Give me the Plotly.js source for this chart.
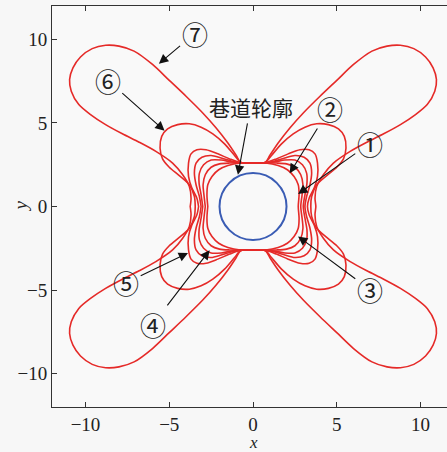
<!DOCTYPE html>
<html>
<head>
<meta charset="utf-8">
<script src="https://cdn.plot.ly/plotly-3.0.1.min.js"></script>
<style>
  html, body { margin: 0; padding: 0; background: #f7f7f7; }
  #plot { width: 447px; height: 452px; }
</style>
</head>
<body>
<div id="plot"></div>
<script>
// first-quadrant outline of each plastic zone
// (from the x-axis crossing round to the top of the roadway, x >= 0, y >= 0)
const zone1X = [2.7, 2.75, 2.7, 2.45, 2.05, 1.5, 0.75, 0.4, 0];
const zone1Y = [0, 0.7, 1.3, 1.8, 2.2, 2.45, 2.6, 2.6, 2.6];

const zone2X = [2.85, 2.93, 2.98, 2.85, 2.5, 2.0, 1.4, 0.75, 0.4, 0];
const zone2Y = [0, 0.7, 1.3, 1.9, 2.35, 2.55, 2.6, 2.6, 2.6, 2.6];

const zone3X = [3.0, 3.1, 3.22, 3.2, 2.95, 2.5, 1.9, 1.3, 0.75, 0.4, 0];
const zone3Y = [0, 0.7, 1.4, 2.0, 2.5, 2.78, 2.78, 2.67, 2.61, 2.6, 2.6];

const zone4X = [3.1, 3.2, 3.4, 3.5, 3.4, 3.05, 2.5, 1.9, 1.3, 0.75, 0.4, 0];
const zone4Y = [0, 0.6, 1.3, 2.0, 2.6, 2.95, 3.05, 2.9, 2.72, 2.62, 2.6, 2.6];

const zone5X = [3.25, 3.35, 3.65, 3.85, 3.85, 3.7, 3.35, 2.8, 2.1, 1.4, 0.75, 0.4, 0];
const zone5Y = [0, 0.5, 1.1, 1.8, 2.6, 3.15, 3.4, 3.4, 3.15, 2.85, 2.62, 2.6, 2.6];

const zone6X = [3.45, 3.5, 3.8, 4.4, 5.0, 5.4, 5.55, 5.45, 5.1, 4.5, 3.8, 3.1, 2.4, 1.7, 1.1, 0.75, 0.4, 0];
const zone6Y = [0, 0.6, 1.3, 1.85, 2.35, 2.85, 3.5, 4.2, 4.65, 4.9, 4.95, 4.75, 4.35, 3.75, 3.05, 2.65, 2.6, 2.6];

const zone7X = [3.75, 3.7, 3.8, 4.2, 4.8, 5.8, 6.8, 7.8, 8.8, 9.7, 10.4, 10.85, 10.95, 10.75, 10.3, 9.6, 8.8, 8.0, 7.1, 6.0, 5.0, 4.0, 3.0, 2.2, 1.5, 1.0, 0.75, 0.4, 0];
const zone7Y = [0, 0.5, 1.2, 1.9, 2.6, 3.3, 3.85, 4.35, 4.9, 5.5, 6.1, 6.9, 7.6, 8.3, 8.95, 9.45, 9.65, 9.6, 9.3, 8.5, 7.55, 6.6, 5.6, 4.7, 3.8, 3.05, 2.65, 2.6, 2.6];

const tunnelRadius = 2;

const labels = ['①', '②', '③', '④', '⑤', '⑥', '⑦'];
// label position and the point each arrow points at
const labelX = [6.97, 4.58, 6.97, -5.98, -7.57, -8.67, -3.49];
const labelY = [3.78, 5.87, -4.97, -7.05, -4.57, 7.56, 10.34];
const tipX = [2.69, 2.19, 2.69, -2.59, -3.88, -5.28, -5.62];
const tipY = [0.75, 1.99, -1.79, -2.62, -2.78, 4.53, 8.55];

const tunnelLabel = '巷道轮廓';
const tunnelLabelPos = [-0.15, 5.96];
const tunnelTip = [-0.9, 1.9];

const xTicks = [-10, -5, 0, 5, 10];
const yTicks = [-10, -5, 0, 5, 10];

// the zones are symmetric about both axes: mirror the quadrant into a closed loop
function fullLoop(qx, qy) {
    const xs = [], ys = [];
    for (let i = 0; i < qx.length; i++) { xs.push(qx[i]); ys.push(qy[i]); }
    for (let i = qx.length - 1; i >= 0; i--) { xs.push(-qx[i]); ys.push(qy[i]); }
    for (let i = 0; i < qx.length; i++) { xs.push(-qx[i]); ys.push(-qy[i]); }
    for (let i = qx.length - 1; i >= 0; i--) { xs.push(qx[i]); ys.push(-qy[i]); }
    return { x: xs, y: ys };
}

const zones = [
    [zone1X, zone1Y], [zone2X, zone2Y], [zone3X, zone3Y], [zone4X, zone4Y],
    [zone5X, zone5Y], [zone6X, zone6Y], [zone7X, zone7Y]
];

const red = '#e52a28';
const traces = zones.map((z, i) => {
    const loop = fullLoop(z[0], z[1]);
    return {
        x: loop.x,
        y: loop.y,
        type: 'scatter',
        mode: 'lines',
        name: labels[i],
        line: { color: red, width: 1.6, shape: 'spline', smoothing: 0.8 },
        hoverinfo: 'skip'
    };
});

const serif = 'Liberation Serif, Times New Roman, serif';
const cjk = 'Noto Sans CJK SC, sans-serif';

const annotations = labels.map((t, i) => ({
    text: t,
    x: tipX[i], y: tipY[i], xref: 'x', yref: 'y',
    ax: labelX[i], ay: labelY[i], axref: 'x', ayref: 'y',
    showarrow: true, arrowhead: 2, arrowsize: 1.7, arrowwidth: 1.1,
    arrowcolor: '#111', standoff: 0,
    font: { family: cjk, size: 26, color: '#222' }
}));

annotations.push({
    text: tunnelLabel,
    x: tunnelTip[0], y: tunnelTip[1], xref: 'x', yref: 'y',
    ax: tunnelLabelPos[0], ay: tunnelLabelPos[1], axref: 'x', ayref: 'y',
    showarrow: true, arrowhead: 2, arrowsize: 1.7, arrowwidth: 1.1,
    arrowcolor: '#111', standoff: 0,
    font: { family: cjk, size: 21, color: '#222' }
});

// axis titles
annotations.push({
    text: '<i>x</i>', x: 0, y: -0.088, xref: 'x', yref: 'paper',
    showarrow: false, yanchor: 'middle', borderpad: 0,
    font: { family: serif, size: 17, color: '#222' }
});
annotations.push({
    text: '<i>y</i>', x: -0.081, y: 0, xref: 'paper', yref: 'y',
    showarrow: false, textangle: -90, xanchor: 'center',
    font: { family: serif, size: 19, color: '#222' }
});

const axisCommon = {
    showgrid: false,
    zeroline: false,
    showline: true,
    linecolor: '#333',
    linewidth: 1,
    ticks: 'inside',
    ticklen: 5,
    tickcolor: '#333',
    tickfont: { family: serif, size: 19, color: '#222' }
};

const layout = {
    width: 447,
    height: 452,
    margin: { l: 52, r: 0, t: 6, b: 45 },
    paper_bgcolor: '#f7f7f7',
    plot_bgcolor: '#f9f9f9',
    showlegend: false,
    xaxis: Object.assign({}, axisCommon, {
        range: [-12, 11.58],
        tickvals: xTicks,
        mirror: 'ticks'
    }),
    yaxis: Object.assign({}, axisCommon, {
        range: [-12, 12],
        tickvals: yTicks,
        mirror: false
    }),
    shapes: [{
        type: 'circle', xref: 'x', yref: 'y',
        x0: -tunnelRadius, x1: tunnelRadius, y0: -tunnelRadius, y1: tunnelRadius,
        line: { color: '#3a5cb4', width: 2 }
    }],
    annotations: annotations
};

Plotly.newPlot('plot', traces, layout, { staticPlot: true, displayModeBar: false });
</script>
</body>
</html>
